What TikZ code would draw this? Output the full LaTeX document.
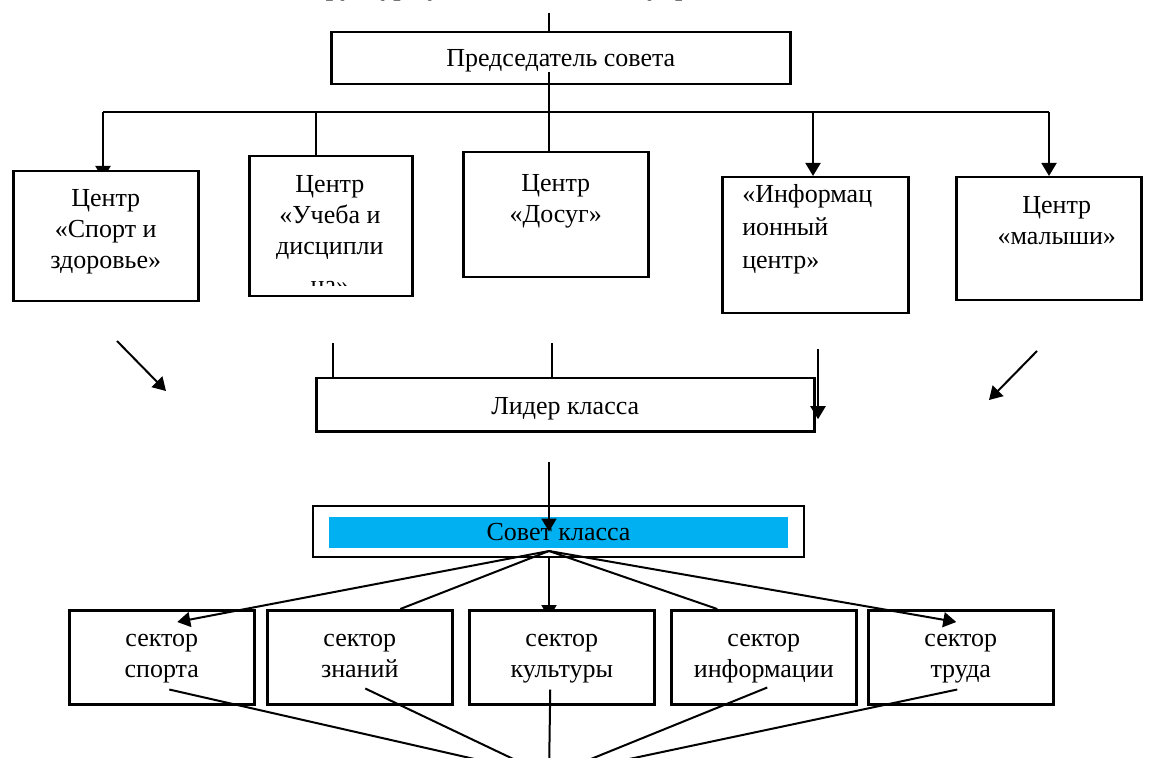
\documentclass[tikz,border=0pt]{standalone}
\usepackage{fontspec}
\setmainfont{Liberation Serif}
\usetikzlibrary{arrows.meta,backgrounds}
\definecolor{sky}{HTML}{00B0F0}
\newcommand{\boxfont}{\fontsize{13}{15.5}\selectfont}
\tikzstyle{centre}=[rectangle, draw=black, line width=1.25pt, fill=white, inner sep=0pt, align=flush center, font=\boxfont, anchor=north west]
\tikzstyle{sector}=[centre, text width=92.5pt, text height=18pt, text depth=29pt]
\tikzstyle{wide}=[rectangle, draw=black, line width=1.25pt, fill=white, inner sep=0pt, font=\boxfont]
\tikzstyle{link}=[line width=1pt]
\tikzstyle{arrow2}=[line width=1pt, -{Triangle[length=6.5pt,width=7.5pt]}]

\begin{document}
\begin{tikzpicture}[x=0.5pt, y=-0.5pt]
\useasboundingbox (0,0) rectangle (1149,758);
\node (title) [anchor=base west, inner sep=0pt, font=\boxfont\bfseries] at (294,-4) {Структура ученического самоуправления};
\node (chair) [centre, text width=229.5pt, text height=17pt, text depth=9pt] at (330,31) {Председатель совета};
\node (sport) [centre, text width=92.5pt, text height=17.5pt, text depth=47.5pt] at (12,170) {Центр\\«Спорт и\\здоровье»};
\node (ucheba) [centre, minimum width=81.5pt, minimum height=70pt] at (248,155) {};
\begin{scope}
\clip (248,155) rectangle (411,286);
\node (uchebatext) [anchor=north west, inner sep=0pt, align=flush center, font=\boxfont, text width=81.5pt, text height=18.5pt] at (248,155) {Центр\\«Учеба и\\дисципли\\[4pt]на»};
\end{scope}
\node (dosug) [centre, text width=92.5pt, text height=19.5pt, text depth=43pt] at (462,151) {Центр\\«Досуг»};
\node (info) [centre, align=flush left, inner xsep=10pt, text width=73pt, text height=12.5pt, text depth=55.5pt, font=\fontsize{13}{16.5}\selectfont] at (721,176) {«Информац\\ионный\\центр»};
\node (malysh) [centre, text width=92.5pt, text height=18pt, text depth=43.5pt] at (955,176) {\hspace*{8pt}Центр\\\hspace*{8pt}«малыши»};
\node (leader) [centre, text width=249pt, text height=18pt, text depth=8.5pt] at (315,377) {Лидер класса};
\node (sovet) [wide, minimum width=245.5pt, minimum height=25.5pt] at (558.5,531.5) {};
\node (sovettext) [rectangle, fill=sky, inner sep=0pt, font=\boxfont, minimum width=229.5pt, minimum height=15.5pt] at (558.5,532.5) {Совет класса};
\node (sec1) [sector] at (68,609) {сектор\\спорта};
\node (sec2) [sector] at (266,609) {сектор\\знаний};
\node (sec3) [sector] at (468,609) {сектор\\культуры};
\node (sec4) [sector] at (670,609) {сектор\\информации};
\node (sec5) [sector] at (867,609) {сектор\\труда};
\coordinate (topin) at (549,13);
\coordinate (chairout) at (549,72);
\coordinate (b1) at (103,112);
\coordinate (b2) at (316,112);
\coordinate (b4) at (813,112);
\coordinate (b5) at (1049,112);
\coordinate (l1) at (117,341);
\coordinate (l2) at (166,391);
\coordinate (r1) at (1037,351);
\coordinate (r2) at (989,400);
\coordinate (t1) at (333,343);
\coordinate (t2) at (552,343);
\coordinate (t3) at (818,349);
\coordinate (leadout) at (549,462);
\coordinate (fan) at (549,551);
\coordinate (base) at (549,776);
\begin{pgfonlayer}{background}
\draw[arrow2, shorten >=-4.5pt] (b1) -- (b1 |- sport.north);
\draw[arrow2, shorten >=-4.5pt] (fan) -- (fan |- sec3.north);
\end{pgfonlayer}
\draw[link] (topin) -- (topin |- chair.north);
\draw[link] (chairout) -- (chairout |- dosug.north);
\draw[link] (b1) -- (b5);
\draw[link] (b2) -- (b2 |- ucheba.north);
\draw[arrow2] (b4) -- (b4 |- info.north);
\draw[arrow2] (b5) -- (b5 |- malysh.north);
\draw[arrow2] (l1) -- (l2);
\draw[arrow2] (r1) -- (r2);
\draw[link] (t1) -- (t1 |- leader.north);
\draw[link] (t2) -- (t2 |- leader.north);
\draw[arrow2, shorten >=-7.25pt] (t3) -- (t3 |- leader.center);
\draw[arrow2] (leadout) -- (leadout |- sovet.center);
\draw[arrow2] (fan) -- ([shift={(15.5,13)}]sec1.north);
\draw[link] (fan) -- ([xshift=20.25pt]sec2.north);
\draw[link] (fan) -- ([xshift=-23.25pt]sec4.north);
\draw[arrow2] (fan) -- ([shift={(-4.5,13)}]sec5.north);
\draw[link] ([shift={(7.5,-16)}]sec1.south) -- (base);
\draw[link] ([shift={(5.5,-17)}]sec2.south) -- (base);
\draw[link] ([shift={(-11.5,-16)}]sec3.south) -- (base);
\draw[link] ([shift={(3.5,-18)}]sec4.south) -- (base);
\draw[link] ([shift={(-3.5,-16)}]sec5.south) -- (base);
\end{tikzpicture}
\end{document}
